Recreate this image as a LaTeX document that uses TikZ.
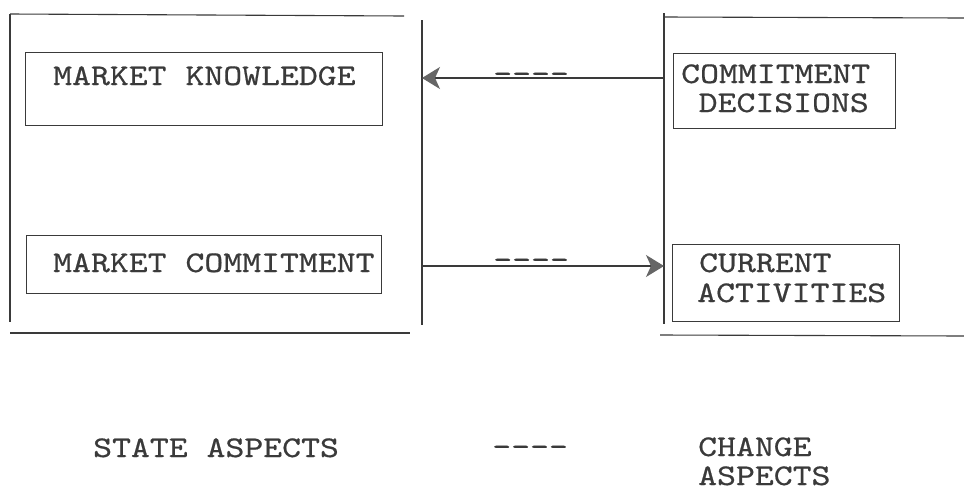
\documentclass[tikz,border=0pt]{standalone}
\usepackage{fontspec}
\newfontfamily\typewriter{lmmono10-regular}[Extension=.otf, FakeStretch=1.2, FakeBold=0.6]
\usetikzlibrary{arrows.meta}
\definecolor{ink}{HTML}{3A3A3A}
\definecolor{headgray}{HTML}{666666}
\tikzset{
  rule/.style={draw=ink, line width=1.1pt},
  panel/.style={draw=ink, line width=1.1pt, inner sep=0pt, anchor=north west},
  txt/.style={font=\typewriter\fontsize{30}{30}\selectfont, text=ink, inner sep=0pt, anchor=base west},
  flow/.style={draw=ink, line width=1.2pt, -{Stealth[length=18pt, width=22pt, inset=5pt, color=headgray]}},
}
\begin{document}
\begin{tikzpicture}[x=1pt, y=-1pt]
\useasboundingbox[fill=white] (0,0) rectangle (964,491);

% state side: open frame
\draw[rule] (10,14) -- (404,16);
\draw[rule] (10,14) -- (10,322);
\draw[rule] (422,20) -- (422,325);
\draw[rule] (10,333) -- (410,333);

% change side: open frame
\draw[rule] (664,13) -- (664,324);
\draw[rule] (664,17) -- (964,18);
\draw[rule] (660,335) -- (964,336);

% inner boxes
\node[panel, minimum width=357pt, minimum height=73pt] (mk) at (25,52) {};
\node[panel, minimum width=355pt, minimum height=58pt] (mc) at (26,235) {};
\node[panel, minimum width=222pt, minimum height=75pt] (cd) at (673,53) {};
\node[panel, minimum width=227pt, minimum height=77pt] (ca) at (672,244) {};

% box texts
\node[txt] (mkt) at (53,85) {MARKET KNOWLEDGE};
\node[txt] (mct) at (53,272) {MARKET COMMITMENT};
\node[txt] (cdt1) at (681,83) {COMMITMENT};
\node[txt, anchor=base east] (cdt2) at (869,112) {DECISIONS};
\node[txt] (cat1) at (699,272) {CURRENT};
\node[txt] (cat2) at (697,302) {ACTIVITIES};

% connectors between the two frames
\coordinate (kin) at (422,78);
\coordinate (kout) at (664,78);
\coordinate (cout) at (422,266);
\coordinate (cin) at (664,266);
\draw[flow] (kout) -- (kin);
\draw[flow] (cout) -- (cin);
\node[txt] (kdash) at (493,83) {----};
\node[txt] (cdash) at (493,269) {----};

% legend
\node[txt] (state) at (93,457) {STATE ASPECTS};
\node[txt] (ldash) at (492,456) {----};
\node[txt] (chg1) at (698,456) {CHANGE};
\node[txt] (chg2) at (698,485) {ASPECTS};
\end{tikzpicture}
\end{document}
